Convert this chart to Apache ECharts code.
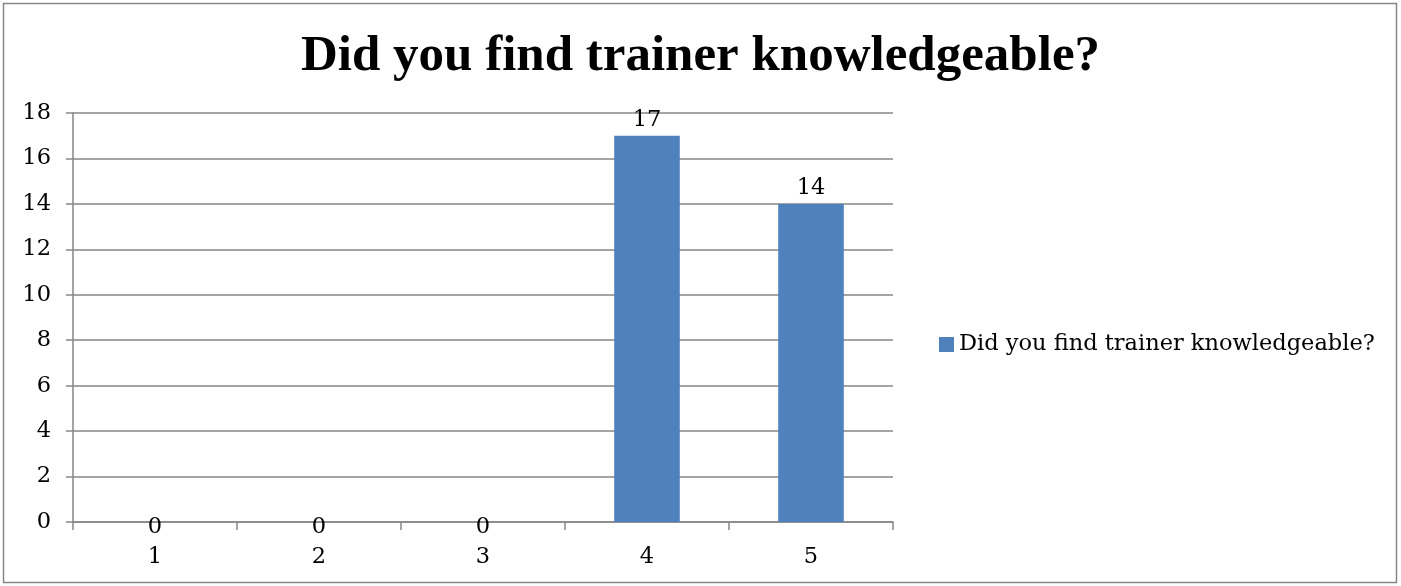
<!DOCTYPE html>
<html>
<head>
<meta charset="utf-8">
<script src="https://cdn.jsdelivr.net/npm/echarts@6/dist/echarts.min.js"></script>
<style>
html,body{margin:0;padding:0;background:#fff;}
#chart{width:1401px;height:586px;}
</style>
</head>
<body>
<div id="chart"></div>
<script>
const titleText = "Did you find trainer knowledgeable?";
const seriesName = "Did you find trainer knowledgeable?";
const categories = ["1", "2", "3", "4", "5"];
const values = [0, 0, 0, 17, 14];

const FONT = "'DejaVu Serif', 'Liberation Serif', serif";
const TFONT = "'Liberation Serif', serif";
const FS = 22.5;
const chart = echarts.init(document.getElementById('chart'), null, {renderer: 'canvas'});

const barData = values.map(v => v === 0
  ? {value: v, label: {offset: [0, 21]}}
  : {value: v});

chart.setOption({
  animation: false,
  backgroundColor: '#fff',
  graphic: [{
    type: 'rect',
    shape: {x: 3.5, y: 3.5, width: 1393, height: 579},
    style: {fill: 'none', stroke: '#868686', lineWidth: 1.5},
    silent: true
  }],
  title: {
    text: titleText,
    left: 'center',
    top: 26,
    textStyle: {fontFamily: TFONT, fontWeight: 'bold', fontSize: 51, color: '#000'}
  },
  legend: {
    data: [seriesName],
    left: 934,
    top: 328,
    itemWidth: 15,
    itemHeight: 15,
    itemGap: 7,
    icon: 'rect',
    textStyle: {fontFamily: FONT, fontSize: FS, color: '#000'}
  },
  grid: {left: 73, right: 508, top: 113, bottom: 64, containLabel: false},
  xAxis: {
    type: 'category',
    data: categories,
    axisLine: {lineStyle: {color: '#868686', width: 1.5}},
    axisTick: {show: true, length: 8, alignWithLabel: false, lineStyle: {color: '#868686', width: 1.5}},
    axisLabel: {fontFamily: FONT, fontSize: FS, color: '#000', margin: 24}
  },
  yAxis: {
    type: 'value',
    min: 0,
    max: 18,
    interval: 2,
    axisLine: {show: true, lineStyle: {color: '#868686', width: 1.5}},
    axisTick: {show: true, length: 7, lineStyle: {color: '#868686', width: 1.5}},
    splitLine: {lineStyle: {color: '#868686', width: 1.5}},
    axisLabel: {fontFamily: FONT, fontSize: FS, color: '#000', margin: 22}
  },
  series: [{
    name: seriesName,
    type: 'bar',
    data: barData,
    barWidth: '40%',
    itemStyle: {color: '#4F81BD'},
    label: {show: true, position: 'top', distance: 4, fontFamily: FONT, fontSize: FS, color: '#000'}
  }]
});
</script>
</body>
</html>
